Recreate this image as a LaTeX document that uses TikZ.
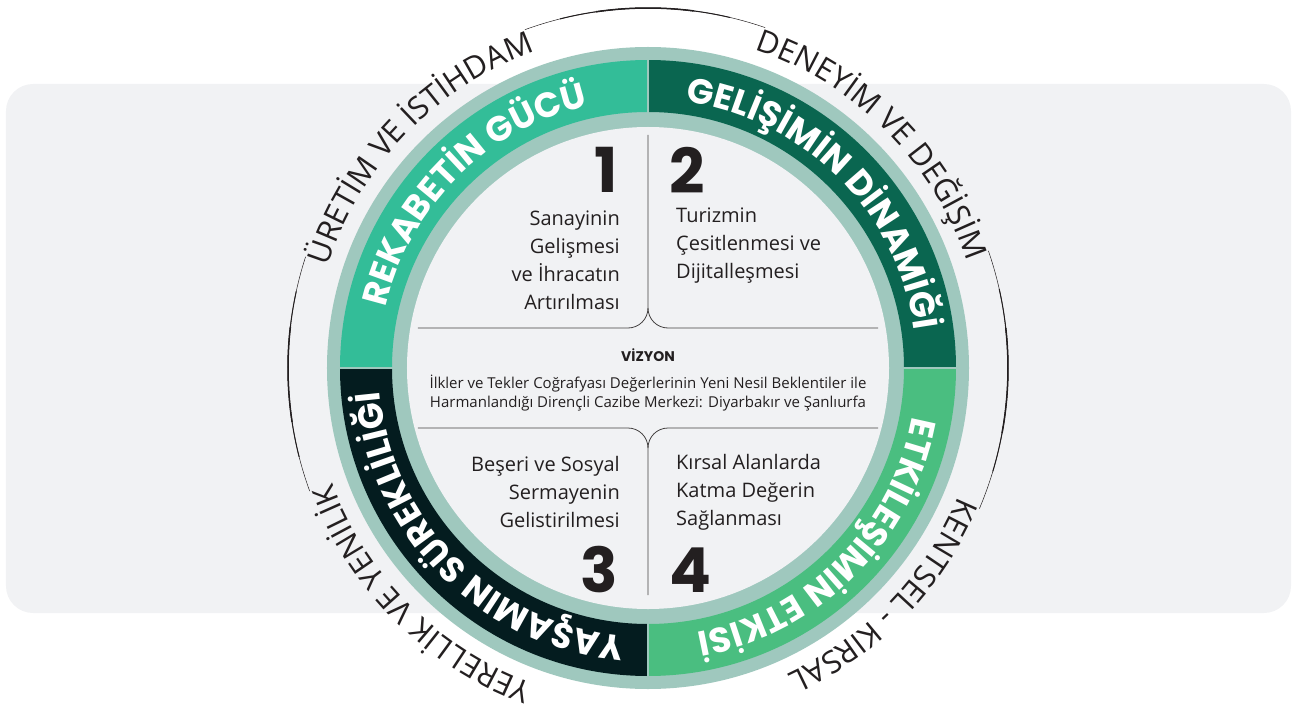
\documentclass[tikz,border=0pt]{standalone}
\usepackage{fontspec}
\setmainfont{Open Sans}
\newfontfamily\bandfont{Poppins}
\newfontfamily\ringfont{Open Sans}
\usetikzlibrary{decorations.text}
\definecolor{ringcol}{HTML}{9FC8BE}
\definecolor{qone}{HTML}{33BD98}
\definecolor{qtwo}{HTML}{0A6650}
\definecolor{qthree}{HTML}{041C1F}
\definecolor{qfour}{HTML}{4ABE80}
\definecolor{bgcol}{HTML}{F1F2F4}
\definecolor{ink}{HTML}{231F20}
\tikzset{
	bandtext/.style={decorate,decoration={text along path,text align=center,text color=white,
		text={|\bandfont\bfseries\fontsize{35}{35}\selectfont|#1}}},
	ringtext/.style={decorate,decoration={text along path,text align=center,text color=ink,
		text={|\ringfont\fontsize{31}{31}\selectfont|#1}}},
	num/.style={text=ink,font=\bandfont\bfseries\fontsize{62}{62}\selectfont,inner sep=0pt},
	goal/.style={text=ink,font=\fontsize{20}{28}\selectfont,inner sep=0pt},
	divider/.style={draw=ink!85,line width=0.8pt}
}
\begin{document}
\begin{tikzpicture}[x=1pt,y=1pt]
	\useasboundingbox (-648,-347) rectangle (644,368);
	\clip (-648,-347) rectangle (644,368);
	\fill[bgcol,rounded corners=27pt] (-642,-245) rectangle (643,284);
	\foreach \s/\e in {110/71,19/-23,-160/-198}{
		\draw[ink,line width=0.5pt] (\s:360) arc[start angle=\s,end angle=\e,radius=360];
		\draw[ink,line width=1pt] ({\s+(\e-\s)*0.15}:360) arc[start angle={\s+(\e-\s)*0.15},end angle={\e-(\e-\s)*0.15},radius=360];
		\draw[ink,line width=1.5pt] ({\s+(\e-\s)*0.3}:360) arc[start angle={\s+(\e-\s)*0.3},end angle={\e-(\e-\s)*0.3},radius=360];
	}
	\fill[ringcol] (0,0) circle[radius=321];
	\foreach \a/\c in {90/qone,0/qtwo,180/qthree,270/qfour}
		\fill[\c] (\a:308) arc[start angle=\a,end angle=\a+90,radius=308]
			-- (\a+90:256) arc[start angle=\a+90,end angle=\a,radius=256] -- cycle;
	\draw[ringcol,line width=2pt] (0,-312) -- (0,312) (-312,0) -- (312,0);
	\fill[bgcol] (0,0) circle[radius=241];
	\path[bandtext={REKABETİN GÜCÜ}] (179:269) arc[start angle=179,end angle=91,radius=269];
	\path[bandtext={GELİŞİMİN DİNAMİĞİ}] (89:269) arc[start angle=89,end angle=1,radius=269];
	\path[bandtext={ETKİLEŞİMİN ETKİSİ}] (-1:269) arc[start angle=-1,end angle=-89,radius=269];
	\path[bandtext={YAŞAMIN SÜREKLİLİĞİ}] (-91:269) arc[start angle=-91,end angle=-179,radius=269];
	\path[ringtext={ÜRETİM VE İSTİHDAM}] (176:336) arc[start angle=176,end angle=96,radius=336];
	\path[ringtext={DENEYİM VE DEĞİŞİM}] (85:336) arc[start angle=85,end angle=5,radius=336];
	\path[ringtext={KENTSEL - KIRSAL}] (-4:336) arc[start angle=-4,end angle=-84,radius=336];
	\path[ringtext={YERELLİK VE YENİLİK}] (-95:336) arc[start angle=-95,end angle=-175,radius=336];
	\draw[divider] (-230,40) -- (-20,40) arc[start angle=270,end angle=360,radius=20] -- (0,233);
	\draw[divider] (230,40) -- (20,40) arc[start angle=270,end angle=180,radius=20] -- (0,60);
	\draw[divider] (-230,-60) -- (-20,-60) arc[start angle=90,end angle=0,radius=20] -- (0,-227);
	\draw[divider] (230,-60) -- (20,-60) arc[start angle=90,end angle=180,radius=20] -- (0,-80);
	\node[num,anchor=east] (n1) at (-30,198) {1};
	\node[num,anchor=west] (n2) at (21,198) {2};
	\node[num,anchor=east] (n3) at (-30,-202) {3};
	\node[num,anchor=west] (n4) at (21,-202) {4};
	\node[goal,align=right,anchor=east] (g1) at (-28,108) {Sanayinin\\Gelişmesi\\ve İhracatın\\Artırılması};
	\node[goal,align=left,anchor=west] (g2) at (28,122) {Turizmin\\Çesitlenmesi ve\\Dijitalleşmesi};
	\node[goal,align=right,anchor=east] (g3) at (-28,-124) {Beşeri ve Sosyal\\Sermayenin\\Gelistirilmesi};
	\node[goal,align=left,anchor=west] (g4) at (28,-124) {Kırsal Alanlarda\\Katma Değerin\\Sağlanması};
	\node[text=ink,font=\bandfont\bfseries\fontsize{14}{14}\selectfont] (viz) at (0,13) {VİZYON};
	\node[text=ink,font=\fontsize{15}{19}\selectfont,align=center] (vtext) at (0,-25) {İlkler ve Tekler Coğrafyası Değerlerinin Yeni Nesil Beklentiler ile\\Harmanlandığı Dirençli Cazibe Merkezi: Diyarbakır ve Şanlıurfa};
\end{tikzpicture}
\end{document}
